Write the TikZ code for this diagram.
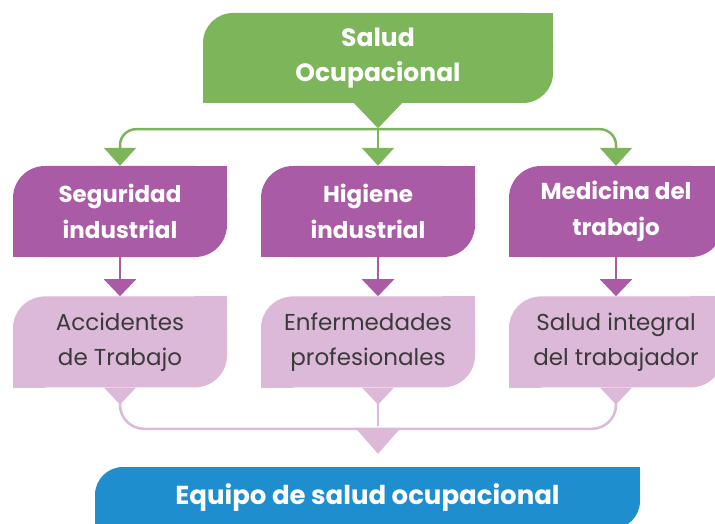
\documentclass[tikz,border=0pt]{standalone}
\usepackage{fontspec}
\setmainfont{Poppins}
\usepackage{xcolor}
\usetikzlibrary{positioning, calc, arrows.meta, backgrounds}

\definecolor{saludgreen}{HTML}{7DB55B}
\definecolor{areapurple}{HTML}{A95CA5}
\definecolor{topicpink}{HTML}{DCB9D8}
\definecolor{teamblue}{HTML}{1F8ECE}
\definecolor{textgray}{HTML}{3A3A3A}

\tikzset{
    box/.style={inner sep=0pt, align=center, rounded corners=32pt},
    area/.style={box, fill=areapurple, text=white, minimum width=214pt, minimum height=91pt,
        font=\fontsize{23}{36}\selectfont\bfseries},
    topic/.style={box, fill=topicpink, text=textgray, minimum width=214pt, minimum height=91pt,
        font=\fontsize{23}{35}\selectfont},
    garrow/.style={saludgreen, line width=2.5pt, -{Triangle[width=32pt,length=18pt]}},
    parrow/.style={areapurple, line width=2.5pt, -{Triangle[width=32pt,length=17pt]}},
    pline/.style={topicpink, line width=2.5pt}
}

\begin{document}
\begin{tikzpicture}[x=1pt, y=1pt]
    \useasboundingbox (0,0) rectangle (715,523);
    \clip (0,0) rectangle (715,523);
    % boxes
    \node[box, fill=saludgreen, text=white, minimum width=350pt, minimum height=90pt, rounded corners=30pt,
        font=\fontsize{25}{35}\selectfont\bfseries] (top) at (378,465) {Salud\\Ocupacional};
    \node[area] (seg) at (120,311.5) {Seguridad\\industrial};
    \node[area] (hig) at (368,311.5) {Higiene\\industrial};
    \node[area] (med) at (616,311.5) {Medicina del\\trabajo};
    \node[topic, below=39pt of seg] (acc) {Accidentes\\de Trabajo};
    \node[topic, below=39pt of hig] (enf) {Enfermedades\\profesionales};
    \node[topic, below=39pt of med] (sal) {Salud integral\\del trabajador};
    \node[box, fill=teamblue, text=white, minimum width=545pt, minimum height=62pt, rounded corners=28pt,
        font=\fontsize{26}{30}\selectfont\bfseries] (equ) at (367.5,25) {Equipo de salud ocupacional};
    % square corners, behind the texts
    \begin{scope}[on background layer]
        \foreach \n/\c/\r in {top/saludgreen/30, seg/areapurple/32, hig/areapurple/32, med/areapurple/32,
            acc/topicpink/32, enf/topicpink/32, sal/topicpink/32, equ/teamblue/28} {
            \fill[\c] (\n.north east) rectangle ++(-\r,-\r);
            \fill[\c] (\n.south west) rectangle ++(\r,\r);
        }
    \end{scope}
    % green arrows
    \fill[saludgreen] ([xshift=-24pt]top.south) -- ([xshift=24pt]top.south) -- ([yshift=-25pt]top.south) -- cycle;
    \coordinate (split) at ($(top.south)+(0,-26)$);
    \draw[garrow, rounded corners=16pt] (split) -| (seg.north);
    \draw[garrow] (split) -- (split |- hig.north);
    \draw[garrow, rounded corners=16pt] (split) -| (med.north);
    % purple arrows
    \draw[parrow] (seg) -- (acc);
    \draw[parrow] (hig.south -| split) -- (enf.north -| split);
    \draw[parrow] (med) -- (sal);
    % pink lines
    \coordinate (merge) at ($(equ.north -| split)+(0,38)$);
    \draw[pline, rounded corners=24pt] (acc.south) -- (acc.south |- merge) -- (sal.south |- merge) -- (sal.south);
    \draw[pline] (enf.south -| merge) -- ($(merge)+(0,3)$);
    \foreach \p in {acc.south, enf.south -| split, sal.south} {
        \fill[topicpink] ($(\p)+(-16,0)$) -- ($(\p)+(16,0)$) -- ($(\p)+(0,-17)$) -- cycle;
    }
    \fill[topicpink] ($(merge)+(-21,-1)$) -- ($(merge)+(21,-1)$) -- ($(merge)+(0,-25)$) -- cycle;
\end{tikzpicture}
\end{document}
